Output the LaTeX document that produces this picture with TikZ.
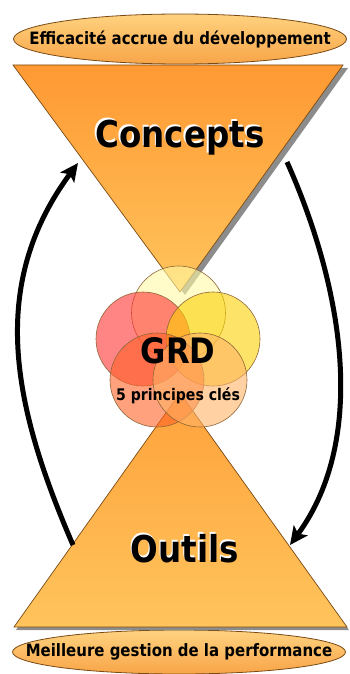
\documentclass[tikz,border=0pt]{standalone}
\usepackage{fontspec}
\newfontfamily\grdfont{DejaVu Sans}[FakeStretch=0.88]
\usetikzlibrary{arrows.meta,shapes.geometric,calc}
\definecolor{grdbrown}{HTML}{7A4A14}
\definecolor{grdlight}{HTML}{FFD27F}
\definecolor{grddeep}{HTML}{F8A548}
\definecolor{grdorange}{HTML}{FF9933}
\definecolor{grdpale}{HTML}{FFC45C}
\tikzset{
  goalbox/.style={ellipse, draw=grdbrown, line width=0.8pt, top color=grdlight, bottom color=grddeep,
    minimum width=333pt, minimum height=50pt, inner sep=0pt, font=\grdfont\bfseries\fontsize{17}{19}\selectfont},
  funnel/.style={draw=grdbrown, line width=0.7pt},
  funnelshadow/.style={fill=black!45},
  bigword/.style={anchor=base, font=\grdfont\bfseries\fontsize{37}{40}\selectfont},
  principle/.style={circle, draw=grdbrown!85, line width=0.6pt, minimum size=94pt, inner sep=0pt, fill opacity=0.6},
  looparrow/.style={-{Stealth[length=18pt,width=17pt,inset=4pt]}, line width=5pt},
}
\newcommand\haloword[1]{\makebox[0pt][l]{\hspace{-1.5pt}\raisebox{1.5pt}{\color{white}#1}}#1}

\begin{document}
\begin{tikzpicture}[x=1pt, y=-1pt]
  \useasboundingbox (0,0) rectangle (349,674);
  % goals
  \node[goalbox] (gain) at (180,39) {\makebox[0pt]{Efficacité accrue du développement}};
  \node[goalbox, minimum height=44pt] (perf) at (179,652) {\makebox[0pt]{Meilleure gestion de la performance}};
  % funnels
  \coordinate (ctl) at (13,65);  \coordinate (ctr) at (343,65);  \coordinate (cap) at (180,292);
  \coordinate (obl) at (14,627); \coordinate (obr) at (347,627); \coordinate (oap) at (180,393);
  \fill[funnelshadow] ($(ctl)+(5,3)$) -- ($(ctr)+(5,3)$) -- ($(cap)+(5,3)$) -- cycle;
  \draw[funnel, top color=grdorange, bottom color=grdpale] (ctl) -- (ctr) -- (cap) -- cycle;
  \fill[funnelshadow] ($(obl)+(2,3)$) -- ($(obr)+(2,3)$) -- ($(oap)+(2,3)$) -- cycle;
  \draw[funnel, top color=grdorange!80!grdpale, bottom color=grdpale] (oap) -- (obr) -- (obl) -- cycle;
  \node[bigword] (concepts) at (180,147) {\haloword{Concepts}};
  \node[bigword] (outils) at (185,562) {\haloword{Outils}};
  % five principles
  \node[principle, fill=yellow!35!white] (p1) at (178.5,313) {};
  \node[principle, fill=red!80!white] (p2) at (143,339) {};
  \node[principle, fill=yellow!70!orange] (p3) at (213,339) {};
  \node[principle, fill=orange!55!red!85!white] (p4) at (157,380) {};
  \node[principle, fill=orange!60!white] (p5) at (200,380) {};
  \node[anchor=base, font=\grdfont\bfseries\fontsize{35}{37}\selectfont] (grd) at (178,363) {GRD};
  \node[anchor=base, font=\grdfont\bfseries\fontsize{16}{18}\selectfont] (keys) at (178,400) {5 principes clés};
  % loop
  \coordinate (upfrom) at (73,545);  \coordinate (upto) at (78,163);
  \coordinate (downfrom) at (287,162); \coordinate (downto) at (290,545);
  \draw[looparrow] (upfrom) .. controls (12,404) and (-12,285) .. (upto);
  \draw[looparrow] (downfrom) .. controls (342,285) and (369,437) .. (downto);
\end{tikzpicture}
\end{document}
